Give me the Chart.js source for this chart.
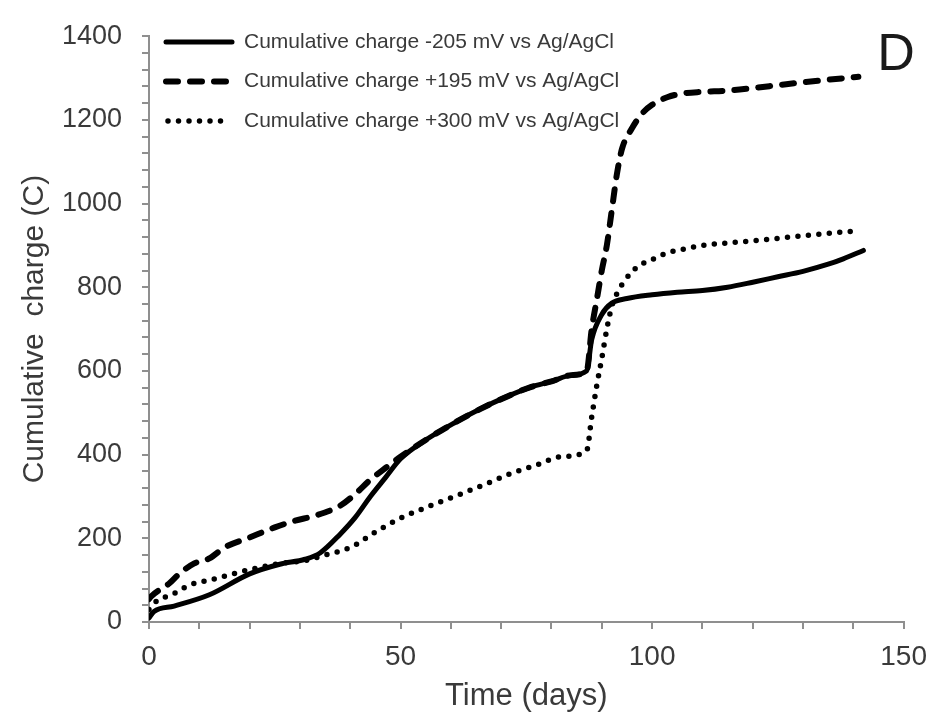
<!DOCTYPE html>
<html>
<head>
<meta charset="utf-8">
<script src="https://cdn.jsdelivr.net/npm/chart.js@4.4.1/dist/chart.umd.min.js"></script>
<style>
  html, body { margin: 0; padding: 0; background: #fff; }
  canvas { display: block; }
</style>
</head>
<body>
<canvas id="chart" width="938" height="719"></canvas>
<script>
// values
const seriesLabels = [
  'Cumulative charge -205 mV vs Ag/AgCl',
  'Cumulative charge +195 mV vs Ag/AgCl',
  'Cumulative charge +300 mV vs Ag/AgCl'
];

const daysNeg205 = [0, 1, 5, 12, 20, 26, 31, 34, 38, 41, 44, 47, 50, 55, 61, 66, 71, 76, 80, 84, 87, 88, 90, 92, 95, 100, 105, 110, 115, 120, 125, 130, 135, 138, 142];
const chargeNeg205 = [10, 25, 38, 65, 115, 138, 150, 165, 210, 250, 300, 345, 390, 435, 478, 510, 538, 562, 575, 590, 600, 675, 735, 762, 773, 782, 788, 792, 800, 812, 825, 838, 855, 868, 888];

const daysPos195 = [0, 0.5, 2.5, 4, 6, 9, 12, 15, 20, 25, 29, 33, 38, 41, 44, 47, 50, 55, 61, 66, 71, 76, 80, 84, 87, 88, 89, 90, 91, 92, 93, 94, 96, 98, 100, 103, 106, 110, 115, 120, 125, 130, 135, 141];
const chargePos195 = [55, 62, 80, 92, 115, 140, 152, 178, 202, 226, 242, 254, 278, 306, 340, 368, 395, 435, 478, 510, 538, 562, 575, 590, 600, 700, 770, 840, 900, 985, 1070, 1130, 1180, 1215, 1236, 1254, 1263, 1267, 1270, 1276, 1283, 1290, 1296, 1303];

const daysPos300 = [0, 1, 5, 8, 12, 17, 21, 26, 31, 35, 40, 45, 50, 56, 62, 67, 72, 77, 82, 87, 88, 89, 90, 91, 92, 93, 94.5, 97, 100, 103, 107, 110, 115, 120, 125, 130, 135, 141];
const chargePos300 = [30, 45, 68, 88, 100, 116, 128, 140, 147, 160, 178, 215, 248, 278, 306, 330, 355, 375, 395, 410, 490, 565, 630, 700, 755, 785, 815, 848, 866, 882, 893, 900, 906, 911, 917, 923, 929, 935];

const xTickLabels = [0, 50, 100, 150];
const yTickLabels = [0, 200, 400, 600, 800, 1000, 1200, 1400];

const toPoints = (xs, ys) => xs.map((x, i) => ({ x: x, y: ys[i] }));

const axisGray = '#8f8f8f';
const textGray = '#3a3a3a';
const fontFamily = '"Liberation Sans", Arial, sans-serif';

const legendInside = {
  id: 'legendInside',
  afterDraw(chart) {
    const ctx = chart.ctx;
    ctx.save();
    chart.data.datasets.forEach((ds, i) => {
      const y = 42 + i * 39.5;
      ctx.beginPath();
      ctx.strokeStyle = ds.borderColor;
      ctx.lineWidth = ds.borderWidth;
      ctx.lineCap = ds.borderCapStyle || 'butt';
      ctx.setLineDash(ds.borderDash || []);
      ctx.moveTo(i === 2 ? 168 : 166, y);
      ctx.lineTo(i === 2 ? 230 : 232, y);
      ctx.stroke();
      ctx.setLineDash([]);
      ctx.fillStyle = textGray;
      ctx.font = '21px ' + fontFamily;
      ctx.textAlign = 'left';
      ctx.textBaseline = 'middle';
      ctx.fillText(ds.label, 244, y);
    });
    ctx.fillStyle = '#1a1a1a';
    ctx.font = '52px ' + fontFamily;
    ctx.textAlign = 'center';
    ctx.textBaseline = 'middle';
    ctx.fillText('D', 896, 56);
    ctx.restore();
  }
};

new Chart(document.getElementById('chart'), {
  type: 'line',
  data: {
    datasets: [
      {
        label: seriesLabels[0],
        data: toPoints(daysNeg205, chargeNeg205),
        borderColor: '#000',
        borderWidth: 5,
        borderCapStyle: 'round',
        pointRadius: 0,
        cubicInterpolationMode: 'monotone'
      },
      {
        label: seriesLabels[1],
        data: toPoints(daysPos195, chargePos195),
        borderColor: '#000',
        borderWidth: 6,
        borderDash: [12, 12],
        borderCapStyle: 'round',
        pointRadius: 0,
        cubicInterpolationMode: 'monotone'
      },
      {
        label: seriesLabels[2],
        data: toPoints(daysPos300, chargePos300),
        borderColor: '#000',
        borderWidth: 5.5,
        borderDash: [0, 10.5],
        borderCapStyle: 'round',
        pointRadius: 0,
        cubicInterpolationMode: 'monotone'
      }
    ]
  },
  options: {
    responsive: false,
    animation: false,
    layout: { padding: { top: 34, right: 29, bottom: 0, left: 0 } },
    plugins: {
      legend: { display: false },
      tooltip: { enabled: false }
    },
    scales: {
      x: {
        type: 'linear',
        min: 0,
        max: 150,
        afterFit: (scale) => { scale.height = 97; },
        border: { display: true, color: axisGray, width: 2 },
        grid: { drawOnChartArea: false, drawTicks: true, tickLength: 7, color: axisGray, lineWidth: 2 },
        ticks: {
          stepSize: 10,
          autoSkip: false,
          maxRotation: 0,
          padding: 11,
          color: textGray,
          font: { family: fontFamily, size: 28 },
          callback: (v) => xTickLabels.includes(v) ? String(v) : ''
        },
        title: {
          display: true,
          text: 'Time (days)',
          color: textGray,
          font: { family: fontFamily, size: 31 },
          padding: { top: 0, bottom: 4 }
        }
      },
      y: {
        min: 0,
        max: 1400,
        afterFit: (scale) => { scale.width = 149; },
        border: { display: true, color: axisGray, width: 2 },
        grid: { drawOnChartArea: false, drawTicks: true, tickLength: 7, color: axisGray, lineWidth: 2 },
        ticks: {
          stepSize: 40,
          autoSkip: false,
          padding: 20,
          color: textGray,
          font: { family: fontFamily, size: 27 },
          callback: (v) => yTickLabels.includes(v) ? String(v) : ''
        },
        title: {
          display: true,
          text: 'Cumulative  charge (C)',
          color: textGray,
          font: { family: fontFamily, size: 30 },
          padding: { top: 17, bottom: 0 }
        }
      }
    }
  },
  plugins: [legendInside]
});
</script>
</body>
</html>
